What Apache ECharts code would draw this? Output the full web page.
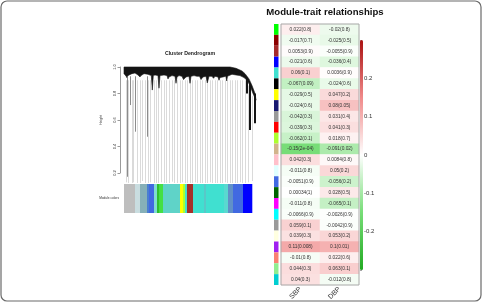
<!DOCTYPE html>
<html>
<head>
<meta charset="utf-8">
<script src="https://cdn.jsdelivr.net/npm/echarts@6/dist/echarts.min.js"></script>
<style>
html, body { margin: 0; padding: 0; background: #fff; }
#chart { width: 483px; height: 303px; }
</style>
</head>
<body>
<div id="chart"></div>
<script>
// module-trait table
var traits = ['SBP', 'DBP'];
var modules = ['green', 'darkred', 'brown', 'blue', 'turquoise', 'black', 'yellow', 'midnightblue',
  'grey60', 'red', 'greenyellow', 'tan', 'pink', 'lightcyan', 'royalblue', 'darkgreen', 'magenta',
  'cyan', 'darkgrey', 'lightyellow', 'purple', 'salmon', 'lightgreen', 'darkturquoise'];
var sbpCor = [0.022, -0.017, 0.0053, -0.021, 0.06, -0.067, -0.029, -0.024, -0.042, -0.039, -0.062, -0.15,
  0.042, -0.011, -0.0051, 0.00034, -0.011, -0.0066, 0.059, 0.039, 0.11, -0.01, 0.044, 0.04];
var sbpP = ['0.8', '0.7', '0.9', '0.6', '0.1', '0.09', '0.5', '0.6', '0.3', '0.3', '0.1', '2e-04',
  '0.3', '0.8', '0.9', '1', '0.8', '0.9', '0.1', '0.3', '0.008', '0.8', '0.3', '0.3'];
var dbpCor = [-0.02, -0.025, -0.0055, -0.036, 0.0036, -0.024, 0.047, 0.08, 0.031, 0.041, 0.018, -0.091,
  0.0084, 0.05, -0.056, 0.028, -0.065, -0.0026, -0.0042, 0.053, 0.1, 0.022, 0.063, -0.012];
var dbpP = ['0.8', '0.5', '0.9', '0.4', '0.9', '0.6', '0.2', '0.05', '0.4', '0.3', '0.7', '0.02',
  '0.8', '0.2', '0.2', '0.5', '0.1', '0.9', '0.9', '0.2', '0.01', '0.6', '0.1', '0.8'];

// dendrogram (x = leaf order, y = height)
var crownTop = [[0, 1], [106, 1], [112, 0.99], [118, 0.97], [121, 0.95], [125, 0.91], [128, 0.86], [131, 0.8], [132, 0.75]];
var crownBottom = [[132, 0.75], [129, 0.8], [126, 0.86], [123, 0.9], [120, 0.92], [116, 0.935], [112, 0.94],
  [108, 0.945], [105, 0.935], [103.5, 0.93], [102.7, 0.895], [101.8, 0.93], [99, 0.925], [96, 0.92], [95, 0.9],
  [94, 0.925], [91, 0.93], [89.5, 0.915], [88, 0.93], [85, 0.93], [83.3, 0.88], [82, 0.93], [79, 0.925],
  [77, 0.905], [75.5, 0.93], [73, 0.93], [70, 0.935], [67, 0.93], [66, 0.877], [65, 0.93], [62, 0.925],
  [59.5, 0.905], [58, 0.93], [55, 0.935], [53, 0.925], [52, 0.877], [51, 0.93], [48, 0.935], [45, 0.925],
  [44, 0.91], [43, 0.935], [40, 0.94], [36, 0.935], [35, 0.84], [34, 0.935], [31, 0.94], [29.3, 0.935],
  [28.3, 0.826], [27.3, 0.935], [24, 0.945], [20, 0.95], [17, 0.935], [16, 0.925], [14, 0.94], [11, 0.955],
  [8, 0.95], [5, 0.94], [3.2, 0.93], [2.7, 0.92], [2.2, 0.93], [0, 0.95]];
var leafX = [1.5, 4, 7.5, 9, 13, 15.5, 18, 20.5, 24, 26, 29.5, 31.5, 34, 37, 39.5, 42, 45, 47.5, 50, 53,
  55.5, 58, 60.5, 63, 65.5, 68, 70.5, 73, 75.5, 78, 80.5, 83, 85.5, 88, 90.5, 93, 95.5, 98, 100.5, 103,
  105.5, 108, 110.5, 113, 115.5, 118, 120.5, 124, 127.5];
var leafTop = [0.9, 0.9, 0.9, 0.9, 0.9, 0.9, 0.9, 0.9, 0.9, 0.9, 0.9, 0.9, 0.9, 0.9, 0.9, 0.9, 0.9, 0.9, 0.9, 0.9,
  0.9, 0.9, 0.9, 0.9, 0.9, 0.9, 0.9, 0.9, 0.9, 0.9, 0.9, 0.9, 0.9, 0.9, 0.9, 0.9, 0.9, 0.9, 0.9, 0.9,
  0.9, 0.9, 0.9, 0.9, 0.9, 0.9, 0.9, 0.86, 0.78];
var leafBottom = [0.13, 0.125, 0.125, 0.13, 0.125, 0.125, 0.14, 0.125, 0.125, 0.13, 0.125, 0.125, 0.125, 0.13,
  0.125, 0.125, 0.125, 0.135, 0.125, 0.125, 0.125, 0.13, 0.125, 0.125, 0.125, 0.125, 0.13, 0.125, 0.125,
  0.125, 0.125, 0.125, 0.13, 0.125, 0.125, 0.125, 0.125, 0.125, 0.13, 0.125, 0.125, 0.125, 0.125, 0.125,
  0.13, 0.125, 0.125, 0.13, 0.14];
var greyBranchX = [2.7, 6, 11, 22.7];
var greyBranchBottom = [0.172, 0.713, 0.512, 0.474];
var blackBranchX = [122.7, 126, 130.5];
var blackBranchTop = [0.92, 0.88, 0.8];
var blackBranchBottom = [0.8, 0.525, 0.575];

// module colour strip under the tree (colour, number of leaves)
var stripColors = ['#bebebe', '#c9dde0', '#86b0b8', '#4a7fd0', '#4169e1', '#7fdcd0', '#2fbf2f', '#44e044',
  '#5fd3c8', '#ffff00', '#adff2f', '#40e0d0', '#a5302a', '#40e0d0', '#58c8c8', '#40e0d0', '#5ad8d0',
  '#6090c8', '#4169e1', '#0000ff'];
var stripWidths = [11, 5, 7, 2, 5, 3, 2, 4, 17, 3, 2, 2, 6, 11, 2, 18, 4, 5, 10, 9];

var moduleHex = {
  green: '#00ff00', darkred: '#8b0000', brown: '#a52a2a', blue: '#0000ff', turquoise: '#40e0d0',
  black: '#000000', yellow: '#ffff00', midnightblue: '#191970', grey60: '#999999', red: '#ff0000',
  greenyellow: '#adff2f', tan: '#d2b48c', pink: '#ffc0cb', lightcyan: '#e0ffff', royalblue: '#4169e1',
  darkgreen: '#006400', magenta: '#ff00ff', cyan: '#00ffff', darkgrey: '#9a9a9a', lightyellow: '#ffffe0',
  purple: '#a020f0', salmon: '#fa8072', lightgreen: '#90ee90', darkturquoise: '#00ced1'
};

var FONT = 'Liberation Sans, Arial, sans-serif';

var heatData = [];
modules.forEach(function (m, i) {
  heatData.push([0, i, sbpCor[i]]);
  heatData.push([1, i, dbpCor[i]]);
});

var leaves = leafX.map(function (x, i) { return [x, leafTop[i], leafBottom[i]]; });
var greyBranches = greyBranchX.map(function (x, i) { return [x, 0.93, greyBranchBottom[i]]; });
var blackBranches = blackBranchX.map(function (x, i) { return [x, blackBranchTop[i], blackBranchBottom[i]]; });

var strip = [];
var acc = 0;
stripWidths.forEach(function (w, i) {
  strip.push([acc, acc + w, i]);
  acc += w;
});

function vline(color, width) {
  return function (params, api) {
    var a = api.coord([api.value(0), api.value(1)]);
    var b = api.coord([api.value(0), api.value(2)]);
    var px = Math.round(a[0]) + (width % 2 ? 0.5 : 0);
    return {
      type: 'line',
      shape: { x1: px, y1: a[1], x2: px, y2: b[1] },
      style: { stroke: color, lineWidth: width }
    };
  };
}

var myChart = echarts.init(document.getElementById('chart'));
var option = {
  animation: false,
  backgroundColor: '#fff',
  textStyle: { fontFamily: FONT },
  graphic: [
    { type: 'rect', shape: { x: 1, y: 1, width: 480, height: 300, r: 6 },
      style: { fill: 'none', stroke: '#6a6a6a', lineWidth: 1.2 }, silent: true },
    { type: 'text', x: 325, y: 12,
      style: { text: 'Module-trait relationships', font: 'bold 9.6px ' + FONT, fill: '#111',
        textAlign: 'center', textVerticalAlign: 'middle' } },
    { type: 'text', x: 190, y: 54,
      style: { text: 'Cluster Dendrogram', font: 'bold 5.2px ' + FONT, fill: '#222',
        textAlign: 'center', textVerticalAlign: 'middle' } },
    { type: 'text', x: 119, y: 198,
      style: { text: 'Module colors', font: '3.2px ' + FONT, fill: '#333',
        textAlign: 'right', textVerticalAlign: 'middle' } }
  ],
  grid: [
    { left: 124, top: 67, width: 132, height: 116 },                 // 0 tree
    { left: 120, top: 67, width: 1, height: 106 },                   // 1 height axis
    { left: 124, top: 184, width: 132, height: 29 },                 // 2 colour strip
    { left: 274, top: 24, width: 4.5, height: 261 },                 // 3 swatches
    { left: 281, top: 24, width: 78, height: 261, show: true, z: 10,
      borderColor: '#a8a8a8', borderWidth: 1, backgroundColor: 'transparent' }, // 4 heatmap
    { left: 360, top: 40, width: 3, height: 230 }                    // 5 colour scale axis
  ],
  xAxis: [
    { gridIndex: 0, type: 'value', min: 0, max: 132, show: false },
    { gridIndex: 1, type: 'value', min: 0, max: 1, show: false },
    { gridIndex: 2, type: 'value', min: 0, max: 132, show: false },
    { gridIndex: 3, type: 'value', min: 0, max: 1, show: false },
    { gridIndex: 4, type: 'category', data: traits,
      axisLine: { show: false }, axisTick: { show: false },
      axisLabel: { rotate: 45, fontSize: 7, color: '#333', margin: 3, fontFamily: FONT } },
    { gridIndex: 5, type: 'value', min: 0, max: 1, show: false }
  ],
  yAxis: [
    { gridIndex: 0, type: 'value', min: 0.125, max: 1, show: false },
    { gridIndex: 1, type: 'value', min: 0.2, max: 1, interval: 0.2,
      name: 'Height', nameLocation: 'middle', nameGap: 17, nameRotate: 90,
      nameTextStyle: { fontSize: 3.5, color: '#333', fontFamily: FONT },
      axisLine: { show: true, lineStyle: { color: '#555', width: 0.6 } },
      axisTick: { show: true, length: 2.5, lineStyle: { color: '#555', width: 0.6 } },
      splitLine: { show: false },
      axisLabel: { rotate: 90, fontSize: 4, color: '#333', margin: 3, fontFamily: FONT,
        formatter: function (v) { return v.toFixed(1); } } },
    { gridIndex: 2, type: 'value', min: 0, max: 1, show: false },
    { gridIndex: 3, type: 'category', data: modules, inverse: true, show: false },
    { gridIndex: 4, type: 'category', data: modules, inverse: true, show: false },
    { gridIndex: 5, type: 'value', min: -0.3, max: 0.3, interval: 0.1, position: 'right',
      axisLine: { show: false },
      axisTick: { show: true, length: 2, lineStyle: { color: '#666', width: 0.6 } },
      splitLine: { show: false },
      axisLabel: { fontSize: 6, color: '#333', margin: 1, fontFamily: FONT,
        formatter: function (v) {
          if (Math.abs(v) > 0.25) return '';
          return String(+v.toFixed(1));
        } } }
  ],
  visualMap: {
    type: 'continuous', seriesIndex: 5, dimension: 2,
    min: -0.3, max: 0.3, calculable: false,
    left: 360, top: 40, itemWidth: 3, itemHeight: 230, padding: 0,
    inRange: { color: ['#22aa22', '#77dd77', '#ffffff', '#f08a8a', '#aa1111'] }
  },
  series: [
    { // 0 leaves
      type: 'custom', xAxisIndex: 0, yAxisIndex: 0, silent: true,
      renderItem: vline('#dadada', 1), encode: { x: 0, y: [1, 2] }, data: leaves
    },
    { // 1 long grey branches
      type: 'custom', xAxisIndex: 0, yAxisIndex: 0, silent: true,
      renderItem: vline('#8c8c8c', 1), encode: { x: 0, y: [1, 2] }, data: greyBranches
    },
    { // 2 dense crown of the tree
      type: 'custom', xAxisIndex: 0, yAxisIndex: 0, silent: true,
      renderItem: function (params, api) {
        var pts = crownTop.concat(crownBottom).map(function (d) { return api.coord(d); });
        return { type: 'polygon', shape: { points: pts },
          style: { fill: '#141414', stroke: '#141414', lineWidth: 0.6 } };
      },
      encode: { x: 0, y: 1 }, data: [[0, 1]]
    },
    { // 3 black outer branches
      type: 'custom', xAxisIndex: 0, yAxisIndex: 0, silent: true,
      renderItem: vline('#141414', 2), encode: { x: 0, y: [1, 2] }, data: blackBranches
    },
    { // 4 module colour strip
      type: 'custom', xAxisIndex: 2, yAxisIndex: 2, silent: true,
      renderItem: function (params, api) {
        var a = api.coord([api.value(0), 1]);
        var b = api.coord([api.value(1), 0]);
        return { type: 'rect', shape: { x: a[0], y: a[1], width: b[0] - a[0] + 0.3, height: b[1] - a[1] },
          style: { fill: stripColors[api.value(2)] } };
      },
      encode: { x: [0, 1] }, data: strip
    },
    { // 5 heatmap
      type: 'heatmap', xAxisIndex: 4, yAxisIndex: 4, data: heatData,
      label: {
        show: true, fontSize: 4.8, color: '#333', fontFamily: FONT,
        formatter: function (p) {
          var i = p.data[1];
          return p.data[0] === 0 ? sbpCor[i] + '(' + sbpP[i] + ')' : dbpCor[i] + '(' + dbpP[i] + ')';
        }
      },
      emphasis: { disabled: true }
    },
    { // 6 module swatches
      type: 'bar', xAxisIndex: 3, yAxisIndex: 3, barWidth: '100%', silent: true,
      data: modules.map(function (m) { return { value: 1, itemStyle: { color: moduleHex[m] } }; })
    }
  ]
};
myChart.setOption(option);
</script>
</body>
</html>
